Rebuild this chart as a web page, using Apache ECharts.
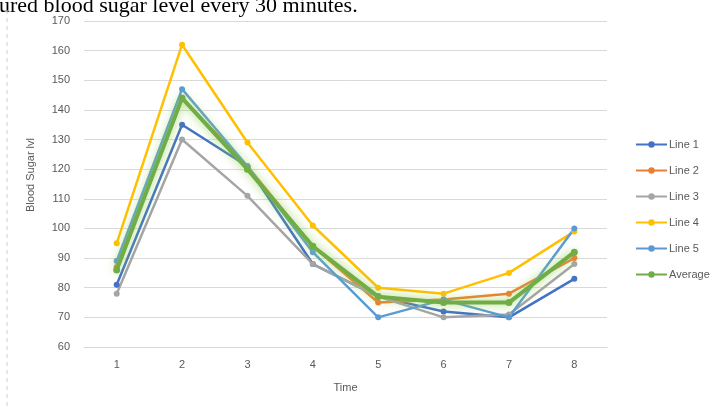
<!DOCTYPE html>
<html>
<head>
<meta charset="utf-8">
<script src="https://cdn.jsdelivr.net/npm/echarts@6/dist/echarts.min.js"></script>
<style>html,body{margin:0;padding:0;background:#fff}#c{width:718px;height:410px}</style>
</head>
<body>
<div id="c"></div>
<script>
var categories = ['1','2','3','4','5','6','7','8'];
var line1 = [81, 135, 121, 88, 77, 72, 70, 83];
var line2 = [87, 144, 121, 94, 75, 76, 78, 90];
var line3 = [78, 130, 111, 88, 77, 70, 71, 88];
var line4 = [95, 162, 129, 101, 80, 78, 85, 99];
var line5 = [89, 147, 121, 92, 70, 76, 70, 100];
var average = [86, 144, 120, 94, 77, 75, 75, 92];
var seriesNames = ['Line 1','Line 2','Line 3','Line 4','Line 5','Average'];
var colors = ['#4472C4','#ED7D31','#A5A5A5','#FFC000','#5B9BD5','#70AD47'];
var dataSets = [line1, line2, line3, line4, line5, average];

var chart = echarts.init(document.getElementById('c'));
var series = dataSets.map(function(d, i){
  var isAvg = i === 5;
  return {
    name: seriesNames[i], type: 'line', data: d,
    symbol: 'circle', symbolSize: isAvg ? 7 : 6,
    itemStyle: {color: colors[i]},
    lineStyle: isAvg ? {width: 4, color: colors[i], shadowColor: 'rgba(146,208,80,0.95)', shadowBlur: 10} : {width: 2.5, color: colors[i]},
    z: isAvg ? 3 : 2
  };
});
chart.setOption({
  animation: false,
  color: colors,
  grid: {left: 84, top: 21, width: 523, height: 326},
  legend: {
    orient: 'vertical', left: 630, top: 134, itemGap: 15,
    itemWidth: 31, itemHeight: 8,
    textStyle: {color: '#595959', fontSize: 11, fontFamily: 'Liberation Sans Narrow, Liberation Sans', padding: [0, 0, 0, -3]},
    data: seriesNames
  },
  xAxis: {
    type: 'category', data: categories, boundaryGap: true,
    name: 'Time', nameLocation: 'middle', nameGap: 35,
    nameTextStyle: {color: '#595959', fontSize: 11, fontFamily: 'Liberation Sans'},
    axisLine: {lineStyle: {color: '#d9d9d9'}},
    axisTick: {show: false},
    axisLabel: {color: '#595959', fontSize: 11, margin: 12, fontFamily: 'Liberation Sans'}
  },
  yAxis: {
    type: 'value', min: 60, max: 170, interval: 10,
    name: 'Blood Sugar lvl', nameLocation: 'middle', nameGap: 48, nameRotate: 90,
    nameTextStyle: {color: '#595959', fontSize: 11, fontFamily: 'Liberation Sans', padding: [0, 0, 0, 18]},
    axisLine: {show: false}, axisTick: {show: false},
    axisLabel: {color: '#595959', fontSize: 11, margin: 14, fontFamily: 'Liberation Sans'},
    splitLine: {lineStyle: {color: '#d9d9d9', width: 1}}
  },
  graphic: [
    {type: 'text', left: -1, top: -5, style: {text: 'ured blood sugar level every 30 minutes.', font: '22px "Liberation Serif"', fill: '#000'}},
    {type: 'line', shape: {x1: 7, y1: 10, x2: 7, y2: 410}, style: {stroke: '#d0d0d0', lineWidth: 1, lineDash: [4, 4]}}
  ],
  series: series
});
</script>
</body>
</html>
